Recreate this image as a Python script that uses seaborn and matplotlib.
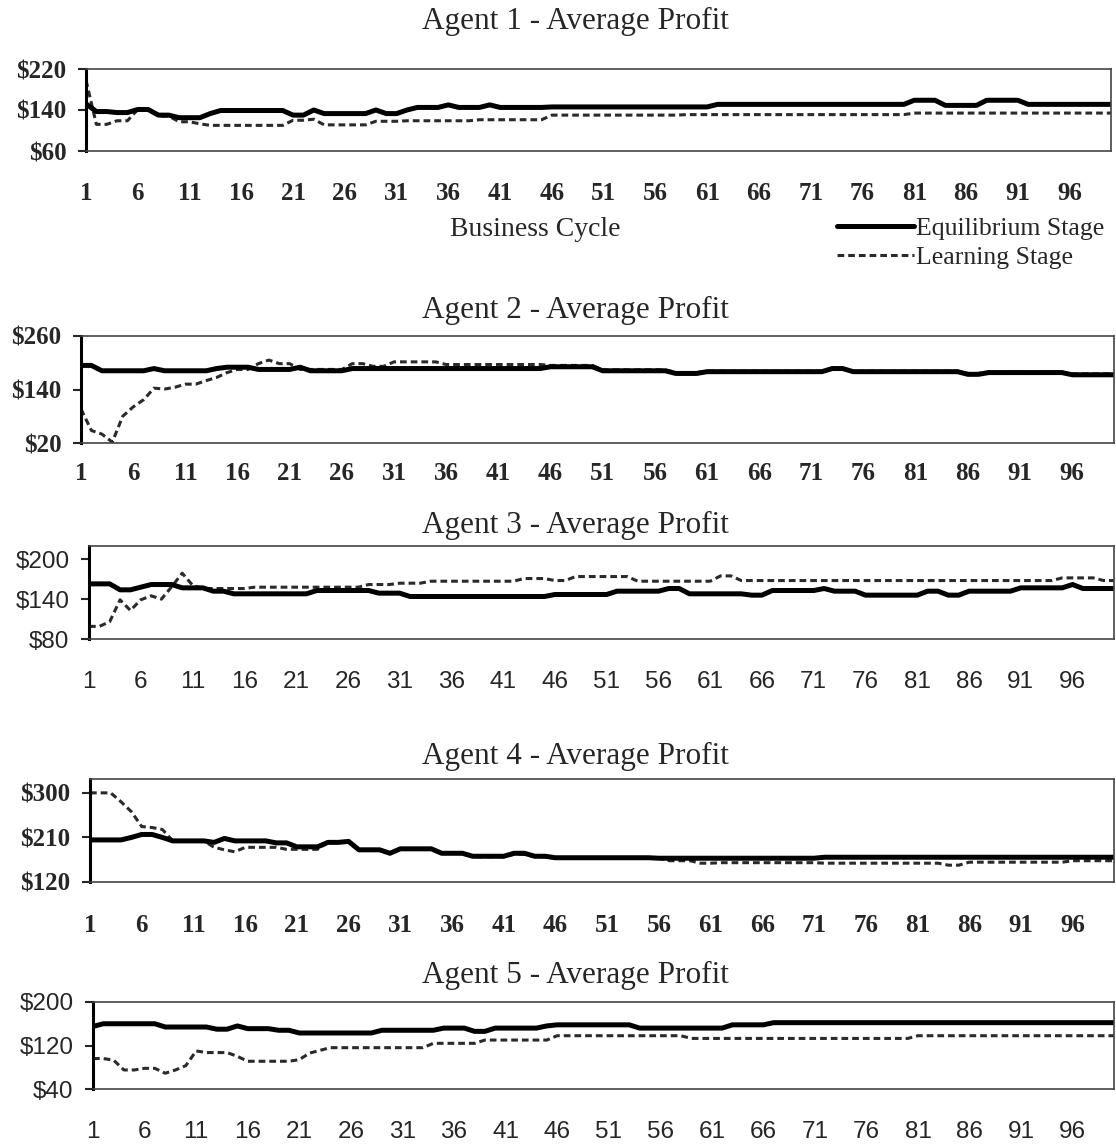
import matplotlib
matplotlib.use("Agg")
import matplotlib.pyplot as plt
import seaborn as sns

CYCLES = list(range(1, 101))
XTICKS = list(range(1, 100, 5))

# Agent 1
A1_EQ = [152, 137, 137, 135, 135, 141, 141, 130, 130, 125,
         125, 125, 133, 139, 139, 139, 139, 139, 139, 139,
         130, 130, 140, 133, 133, 133, 133, 133, 140, 133,
         133, 140, 145, 145, 145, 150, 145, 145, 145, 150,
         145, 145, 145, 145, 145, 146, 146, 146, 146, 146,
         146, 146, 146, 146, 146, 146, 146, 146, 146, 146,
         146, 151, 151, 151, 151, 151, 151, 151, 151, 151,
         151, 151, 151, 151, 151, 151, 151, 151, 151, 151,
         159, 159, 159, 149, 149, 149, 149, 159, 159, 159,
         159, 151, 151, 151, 151, 151, 151, 151, 151, 151]
A1_LR = [198, 112, 112, 119, 119, 141, 141, 128, 128, 117,
         117, 113, 110, 110, 110, 110, 110, 110, 110, 110,
         120, 120, 122, 111, 111, 111, 111, 111, 118, 118,
         118, 119, 119, 119, 119, 119, 119, 119, 121, 121,
         121, 121, 121, 121, 121, 130, 130, 130, 130, 130,
         130, 130, 130, 130, 130, 130, 130, 130, 131, 131,
         131, 131, 131, 131, 131, 131, 131, 131, 131, 131,
         131, 131, 131, 131, 131, 131, 131, 131, 131, 131,
         134, 134, 134, 134, 134, 134, 134, 134, 134, 134,
         134, 134, 134, 134, 134, 134, 134, 134, 134, 134]

# Agent 2
A2_EQ = [194, 194, 182, 182, 182, 182, 182, 187, 182, 182,
         182, 182, 182, 187, 190, 190, 190, 185, 185, 185,
         185, 190, 182, 182, 182, 182, 187, 187, 187, 187,
         187, 187, 187, 187, 187, 187, 187, 187, 187, 187,
         187, 187, 187, 187, 187, 191, 191, 191, 191, 191,
         182, 182, 182, 182, 182, 182, 182, 176, 176, 176,
         180, 180, 180, 180, 180, 180, 180, 180, 180, 180,
         180, 180, 187, 187, 180, 180, 180, 180, 180, 180,
         180, 180, 180, 180, 180, 174, 174, 178, 178, 178,
         178, 178, 178, 178, 178, 173, 173, 173, 173, 173]
A2_LR = [96, 48, 40, 22, 80, 101, 117, 143, 141, 145,
         152, 152, 160, 167, 178, 185, 185, 198, 206, 198,
         198, 185, 185, 185, 185, 185, 198, 198, 192, 192,
         202, 202, 202, 202, 202, 196, 196, 196, 196, 196,
         196, 196, 196, 196, 196, 194, 194, 194, 194, 194,
         184, 184, 184, 184, 184, 184, 184, 178, 178, 178,
         181, 181, 181, 181, 181, 181, 181, 181, 181, 181,
         181, 181, 186, 186, 181, 181, 181, 181, 181, 181,
         181, 181, 181, 181, 181, 176, 176, 179, 179, 179,
         179, 179, 179, 179, 179, 175, 175, 175, 175, 175]

# Agent 3
A3_EQ = [163, 163, 163, 154, 154, 158, 162, 162, 162, 157,
         157, 157, 152, 152, 148, 148, 148, 148, 148, 148,
         148, 148, 153, 153, 153, 153, 153, 153, 149, 149,
         149, 144, 144, 144, 144, 144, 144, 144, 144, 144,
         144, 144, 144, 144, 144, 147, 147, 147, 147, 147,
         147, 152, 152, 152, 152, 152, 156, 156, 148, 148,
         148, 148, 148, 148, 146, 146, 153, 153, 153, 153,
         153, 156, 152, 152, 152, 146, 146, 146, 146, 146,
         146, 152, 152, 146, 146, 152, 152, 152, 152, 152,
         157, 157, 157, 157, 157, 162, 156, 156, 156, 156]
A3_LR = [99, 99, 106, 139, 123, 139, 145, 140, 159, 179,
         161, 156, 156, 156, 156, 156, 158, 158, 158, 158,
         158, 158, 158, 158, 158, 158, 158, 162, 162, 162,
         164, 164, 164, 167, 167, 167, 167, 167, 167, 167,
         167, 167, 171, 171, 171, 168, 168, 174, 174, 174,
         174, 174, 174, 167, 167, 167, 167, 167, 167, 167,
         167, 175, 175, 168, 168, 168, 168, 168, 168, 168,
         168, 168, 168, 168, 168, 168, 168, 168, 168, 168,
         168, 168, 168, 168, 168, 168, 168, 168, 168, 168,
         168, 168, 168, 168, 172, 172, 172, 172, 168, 168]

# Agent 4
A4_EQ = [205, 205, 205, 205, 210, 216, 216, 210, 203, 203,
         203, 203, 200, 208, 203, 203, 203, 203, 199, 199,
         191, 191, 191, 200, 200, 202, 185, 185, 185, 178,
         187, 187, 187, 187, 178, 178, 178, 172, 172, 172,
         172, 178, 178, 172, 172, 169, 169, 169, 169, 169,
         169, 169, 169, 169, 169, 168, 168, 168, 168, 168,
         168, 168, 168, 168, 168, 168, 168, 168, 168, 168,
         168, 170, 170, 170, 170, 170, 170, 170, 170, 170,
         170, 170, 170, 170, 170, 170, 170, 170, 170, 170,
         170, 170, 170, 170, 170, 170, 170, 170, 170, 170]
A4_LR = [300, 300, 300, 282, 262, 232, 230, 226, 203, 203,
         203, 203, 190, 185, 181, 190, 190, 190, 190, 186,
         186, 186, 186, 200, 200, 200, 185, 185, 185, 178,
         186, 186, 186, 186, 178, 178, 178, 171, 171, 171,
         171, 176, 176, 171, 171, 168, 168, 168, 168, 168,
         168, 168, 168, 168, 168, 168, 163, 163, 163, 158,
         158, 159, 159, 159, 159, 159, 159, 159, 159, 159,
         159, 158, 158, 158, 158, 158, 158, 158, 158, 158,
         158, 158, 158, 154, 154, 160, 160, 160, 160, 160,
         160, 160, 160, 160, 160, 163, 163, 163, 163, 163]

# Agent 5
A5_EQ = [155, 160, 160, 160, 160, 160, 160, 154, 154, 154,
         154, 154, 150, 150, 156, 151, 151, 151, 148, 148,
         143, 143, 143, 143, 143, 143, 143, 143, 148, 148,
         148, 148, 148, 148, 152, 152, 152, 146, 146, 152,
         152, 152, 152, 152, 156, 158, 158, 158, 158, 158,
         158, 158, 158, 152, 152, 152, 152, 152, 152, 152,
         152, 152, 158, 158, 158, 158, 162, 162, 162, 162,
         162, 162, 162, 162, 162, 162, 162, 162, 162, 162,
         162, 162, 162, 162, 162, 162, 162, 162, 162, 162,
         162, 162, 162, 162, 162, 162, 162, 162, 162, 162]
A5_LR = [96, 96, 93, 75, 75, 78, 78, 69, 75, 83,
         110, 107, 107, 107, 100, 91, 91, 91, 91, 91,
         94, 106, 111, 116, 116, 116, 116, 116, 116, 116,
         116, 116, 116, 124, 124, 124, 124, 124, 130, 130,
         130, 130, 130, 130, 130, 138, 138, 138, 138, 138,
         138, 138, 138, 138, 138, 138, 138, 138, 133, 133,
         133, 133, 133, 133, 133, 133, 133, 133, 133, 133,
         133, 133, 133, 133, 133, 133, 133, 133, 133, 133,
         138, 138, 138, 138, 138, 138, 138, 138, 138, 138,
         138, 138, 138, 138, 138, 138, 138, 138, 138, 138]

TITLES = ["Agent 1 - Average Profit", "Agent 2 - Average Profit",
          "Agent 3 - Average Profit", "Agent 4 - Average Profit",
          "Agent 5 - Average Profit"]
YTICKS = [[60, 140, 220], [20, 140, 260], [80, 140, 200],
          [120, 210, 300], [40, 120, 200]]

sns.set_style("white")
plt.rcParams["font.family"] = ["Liberation Serif", "DejaVu Serif"]

W, H = 1116, 1144
fig = plt.figure(figsize=(W / 100, H / 100), dpi=100)

# left, right, top, bottom in pixels, y limits, title y, tick font, xtick pad
panels = [
    dict(box=(86, 1111, 69, 151), ylim=(60, 220), ty=21, font="Liberation Serif", pad=22),
    dict(box=(81, 1114, 336, 443), ylim=(20, 260), ty=310, font="Liberation Serif", pad=14),
    dict(box=(89, 1114, 546, 639), ylim=(80, 220), ty=525, font="Liberation Sans", pad=23),
    dict(box=(90, 1114, 779, 882), ylim=(120, 328), ty=756, font="Liberation Serif", pad=23),
    dict(box=(93, 1114, 1002, 1089), ylim=(40, 200), ty=975, font="Liberation Sans", pad=23),
]
series = [(A1_EQ, A1_LR), (A2_EQ, A2_LR), (A3_EQ, A3_LR), (A4_EQ, A4_LR), (A5_EQ, A5_LR)]


def plot_agent(p, eq, lr, title, yticks):
    l, r, t, b = p["box"]
    ax = fig.add_axes([l / W, 1 - b / H, (r - l) / W, (b - t) / H])
    sns.lineplot(x=CYCLES, y=lr, ax=ax, color="#2a2a2a", lw=2.2,
                 linestyle=(0, (2.2, 1.3)), label="Learning Stage")
    sns.lineplot(x=CYCLES, y=eq, ax=ax, color="black", lw=3.6,
                 label="Equilibrium Stage")
    ax.set_xlim(1, 100)
    ax.set_ylim(*p["ylim"])
    ax.set_xticks(XTICKS)
    ax.set_xticklabels([str(v) for v in XTICKS])
    ax.set_yticks(yticks)
    ax.set_yticklabels(["$%d" % v for v in yticks])
    sans = "Sans" in p["font"]
    for lab in ax.get_xticklabels() + ax.get_yticklabels():
        lab.set_fontfamily(p["font"])
        lab.set_fontsize(17.5 if sans else 18)
        lab.set_fontweight("normal" if sans else "bold")
    ax.tick_params(axis="x", length=0, pad=p["pad"])
    ax.tick_params(axis="y", direction="out", length=6, width=1.5, pad=8, left=True)
    for side in ["top", "right", "bottom"]:
        ax.spines[side].set_color("#444444")
        ax.spines[side].set_linewidth(1.2)
    ax.spines["left"].set_color("black")
    ax.spines["left"].set_linewidth(2.2)
    ax.set_xlabel("")
    ax.set_ylabel("")
    handles, labels = ax.get_legend_handles_labels()
    ax.get_legend().remove()
    fig.text(575 / W, 1 - p["ty"] / H, title, ha="center", va="center", fontsize=22.5)
    return handles, labels


for i in range(5):
    hl = plot_agent(panels[i], series[i][0], series[i][1], TITLES[i], YTICKS[i])
    if i == 0:
        handles, labels = hl

# axis label and legend only on the first panel
fig.text(535 / W, 1 - 229 / H, "Business Cycle", ha="center", va="center", fontsize=20)
fig.legend(handles[::-1], labels[::-1], loc="center left",
           bbox_to_anchor=(824 / W, 1 - 243 / H), frameon=False, fontsize=18.5,
           handlelength=3.0, handletextpad=0.1, labelspacing=0.2, borderpad=0)

fig.savefig("out.png", dpi=100)
